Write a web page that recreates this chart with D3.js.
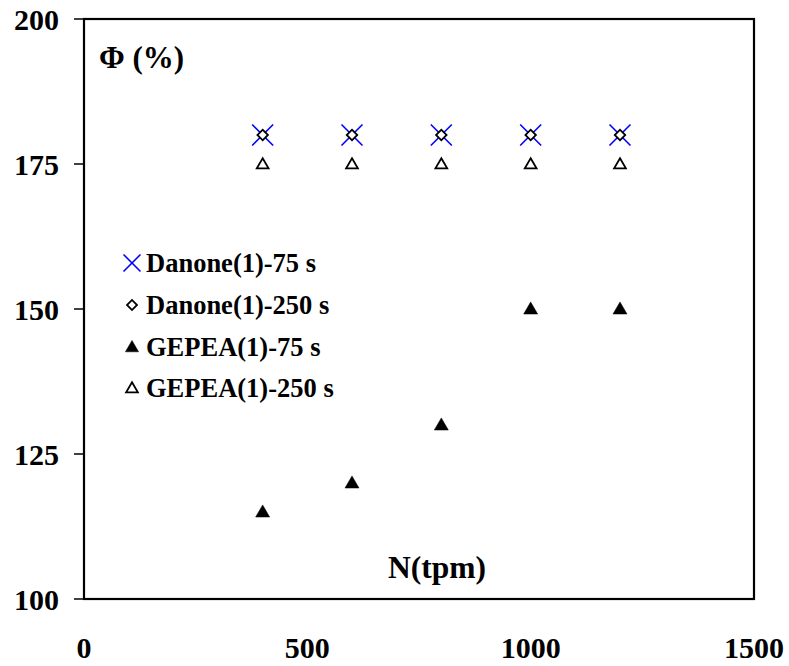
<!DOCTYPE html>
<html>
<head>
<meta charset="utf-8">
<script src="https://cdn.jsdelivr.net/npm/d3@7"></script>
<style>
  body { margin: 0; background: #fff; }
  svg { display: block; font-family: "Liberation Serif", "Times New Roman", serif; font-weight: bold; }
</style>
</head>
<body>
<div id="chart"></div>
<script>
// data
var speeds = [400, 600, 800, 1000, 1200];
var danone75 = [180, 180, 180, 180, 180];
var danone250 = [180, 180, 180, 180, 180];
var gepea75 = [115, 120, 130, 150, 150];
var gepea250 = [175, 175, 175, 175, 175];
var xTicks = [0, 500, 1000, 1500];
var yTicks = [100, 125, 150, 175, 200];
var legendLabels = ['Danone(1)-75 s', 'Danone(1)-250 s', 'GEPEA(1)-75 s', 'GEPEA(1)-250 s'];

var width = 789, height = 666;
var margin = {top: 19, right: 35, bottom: 67, left: 84};

var svg = d3.select('#chart')
  .append('svg')
    .attr('width', width)
    .attr('height', height);

var x = d3.scaleLinear().domain([0, 1500]).range([margin.left, width - margin.right]);
var y = d3.scaleLinear().domain([100, 200]).range([height - margin.bottom, margin.top]);

// frame
svg.append('rect')
  .attr('x', x(0))
  .attr('y', y(200))
  .attr('width', x(1500) - x(0))
  .attr('height', y(100) - y(200))
  .style('fill', 'none')
  .style('stroke', '#000')
  .style('stroke-width', 2.2);

// y axis ticks + labels
var yAxis = svg.append('g');
yAxis.selectAll('line')
  .data(yTicks)
  .enter().append('line')
    .attr('x1', x(0) - 10)
    .attr('x2', x(0))
    .attr('y1', function(d) { return y(d); })
    .attr('y2', function(d) { return y(d); })
    .style('stroke', '#000')
    .style('stroke-width', 1.5);
yAxis.selectAll('text')
  .data(yTicks)
  .enter().append('text')
    .attr('x', 59)
    .attr('y', function(d) { return y(d) + 11; })
    .style('font-size', '30px')
    .style('text-anchor', 'end')
    .text(function(d) { return d; });

// x labels (no tick marks in the original)
svg.append('g').selectAll('text')
  .data(xTicks)
  .enter().append('text')
    .attr('x', function(d) { return x(d); })
    .attr('y', 658)
    .style('font-size', '30px')
    .style('text-anchor', 'middle')
    .text(function(d) { return d; });

// axis titles inside the frame
svg.append('text')
  .attr('x', 99)
  .attr('y', 68)
  .style('font-size', '31px')
  .text('\u03A6 (%)');

svg.append('text')
  .attr('x', 437)
  .attr('y', 578)
  .style('font-size', '31.5px')
  .style('text-anchor', 'middle')
  .text('N(tpm)');

// marker helpers
function cross(g, cx, cy, r) {
  g.append('path')
    .attr('d', 'M' + (cx - r) + ',' + (cy - r) + 'L' + (cx + r) + ',' + (cy + r) +
               'M' + (cx - r) + ',' + (cy + r) + 'L' + (cx + r) + ',' + (cy - r))
    .style('stroke', '#0000ff')
    .style('stroke-width', 1.6)
    .style('fill', 'none');
}
function diamond(g, cx, cy, area) {
  g.append('path')
    .attr('d', d3.symbol().type(d3.symbolSquare).size(area)())
    .attr('transform', 'translate(' + cx + ',' + cy + ') rotate(45)')
    .style('fill', '#fff')
    .style('stroke', '#000')
    .style('stroke-width', 1.8);
}
function triangle(g, cx, cy, area, filled) {
  g.append('path')
    .attr('d', d3.symbol().type(d3.symbolTriangle).size(area)())
    .attr('transform', 'translate(' + cx + ',' + (cy + 1) + ')')
    .style('fill', filled ? '#000' : '#fff')
    .style('stroke', '#000')
    .style('stroke-width', filled ? 0.5 : 1.8);
}

var pts = svg.append('g');
speeds.forEach(function(s, i) {
  cross(pts, x(s), y(danone75[i]), 10.5);
  diamond(pts, x(s), y(danone250[i]), 55);
  triangle(pts, x(s), y(gepea250[i]), 60, false);
  triangle(pts, x(s), y(gepea75[i]), 85, true);
});

// legend
var legend = svg.append('g');
var legendY = [263, 305, 347, 388];
legendLabels.forEach(function(lbl, i) {
  var cy = legendY[i];
  if (i === 0) cross(legend, 132, cy, 8.5);
  if (i === 1) diamond(legend, 132, cy, 50);
  if (i === 2) triangle(legend, 132, cy, 75, true);
  if (i === 3) triangle(legend, 132, cy, 60, false);
  legend.append('text')
    .attr('x', 146)
    .attr('y', cy + 9)
    .style('font-size', '26.5px')
    .text(lbl);
});
</script>
</body>
</html>
